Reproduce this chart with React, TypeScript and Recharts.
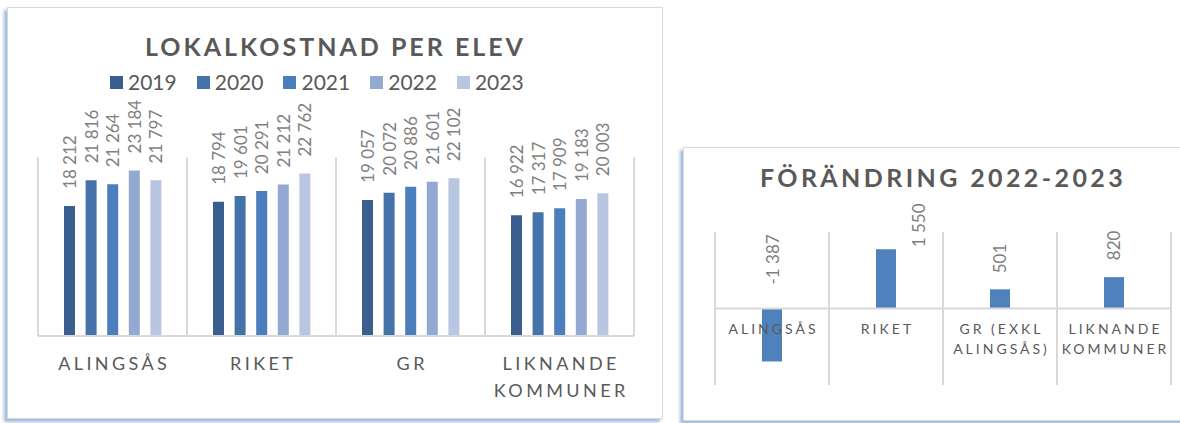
import React from 'react';
import { BarChart, Bar, XAxis, YAxis, CartesianGrid, Legend, LabelList, ReferenceLine } from 'recharts';

// ---------- Data ----------
const categories = ['ALINGSÅS', 'RIKET', 'GR', 'LIKNANDE KOMMUNER'];
const categoryLines = [['ALINGSÅS'], ['RIKET'], ['GR'], ['LIKNANDE', 'KOMMUNER']];
const years = ['2019', '2020', '2021', '2022', '2023'];
const values2019 = [18212, 18794, 19057, 16922];
const values2020 = [21816, 19601, 20072, 17317];
const values2021 = [21264, 20291, 20886, 17909];
const values2022 = [23184, 21212, 21601, 19183];
const values2023 = [21797, 22762, 22102, 20003];

const changeCategories = ['ALINGSÅS', 'RIKET', 'GR (EXKL ALINGSÅS)', 'LIKNANDE KOMMUNER'];
const changeCategoryLines = [['ALINGSÅS'], ['RIKET'], ['GR (EXKL', 'ALINGSÅS)'], ['LIKNANDE', 'KOMMUNER']];
const changeValues = [-1387, 1550, 501, 820];

// ---------- Styles ----------
const FONT = "Lato, 'Open Sans', 'Liberation Sans', sans-serif";
const yearColors = ['#3A5F8F', '#4472A9', '#4B7EBC', '#94A9D1', '#B9C6E1'];
const changeColor = '#4F81BD';
const gridColor = '#D9D9D9';
const textDark = '#595959';
const labelGray = '#7F7F7F';
// label placement tweaks (per category) for the change chart
const changeLabelDx = [0, 33, 0, 0];
const changeLabelGap = [24, 2, 16, 17];

const seriesValues = [values2019, values2020, values2021, values2022, values2023];
const lokalData = categories.map((name, i) => {
  const row: any = { name, idx: i };
  years.forEach((y, k) => { row['y' + y] = seriesValues[k][i]; });
  return row;
});
const changeData = changeCategories.map((name, i) => ({ name, idx: i, value: changeValues[i] }));

const fmt = (v: number) => {
  const s = Math.abs(v).toString().replace(/\B(?=(\d{3})+(?!\d))/g, ' ');
  return (v < 0 ? '-' : '') + s;
};

const VLabel = (props: any) => {
  const { x, y, width, height, value } = props;
  const cx = Number(x) + Number(width) / 2;
  const top = Math.min(Number(y), Number(y) + Number(height));
  const ly = top - 17;
  return (
    <text x={cx} y={ly} transform={`rotate(-90 ${cx} ${ly})`} textAnchor="start" dominantBaseline="central"
      fill={labelGray} fontSize={17} fontFamily={FONT}>{fmt(Number(value))}</text>
  );
};

const ChangeLabel = (props: any) => {
  const { x, y, width, height, value, index } = props;
  const cx = Number(x) + Number(width) / 2 + changeLabelDx[index];
  const top = Math.min(Number(y), Number(y) + Number(height));
  const ly = top - changeLabelGap[index];
  return (
    <text x={cx} y={ly} transform={`rotate(-90 ${cx} ${ly})`} textAnchor="start" dominantBaseline="central"
      fill={labelGray} fontSize={17} fontFamily={FONT}>{fmt(Number(value))}</text>
  );
};

const LeftTick = (props: any) => {
  const { x, y, payload, index } = props;
  const lines = categoryLines[index] || [String(payload.value)];
  return (
    <g>
      {lines.map((ln: string, i: number) => (
        <text key={i} x={Number(x) + 1.7} y={Number(y) + 34 + i * 27} textAnchor="middle" fill={textDark}
          fontSize={18} letterSpacing={3.4} fontFamily={FONT}>{ln}</text>
      ))}
    </g>
  );
};

const RightTick = (props: any) => {
  const { x, y, payload, index } = props;
  const lines = changeCategoryLines[index] || [String(payload.value)];
  return (
    <g>
      {lines.map((ln: string, i: number) => (
        <text key={i} x={Number(x) + 1.5} y={Number(y) - 51 + i * 20} textAnchor="middle" fill={textDark}
          fontSize={14} letterSpacing={3} fontFamily={FONT}>{ln}</text>
      ))}
    </g>
  );
};

const renderLegend = () => (
  <div style={{ height: 87.5, display: 'flex', gap: 20, paddingLeft: 72, boxSizing: 'border-box', fontFamily: FONT }}>
    {years.map((yr, i) => (
      <div key={yr} style={{ display: 'flex', alignItems: 'center', height: 24 }}>
        <span style={{ display: 'inline-block', width: 13, height: 13, background: yearColors[i], marginRight: 5 }} />
        <span style={{ fontSize: 21, color: textDark, lineHeight: '24px' }}>{yr}</span>
      </div>
    ))}
  </div>
);

const boundaryGen = ({ offset }: any) => {
  const n = 4;
  const arr: number[] = [];
  for (let i = 0; i <= n; i++) arr.push(offset.left + (i * offset.width) / n);
  return arr;
};

export default function App() {
  return (
    <div style={{ position: 'absolute', left: 0, top: 0, width: 1180, height: 423, background: '#fff', overflow: 'hidden', fontFamily: FONT }}>
      {/* frames */}
      <div style={{ position: 'absolute', left: 7, top: 7, width: 656, height: 412, border: '1px solid #D9D9D9', boxSizing: 'border-box',
        boxShadow: '-3px 3px 3px rgba(79,129,189,0.55)', background: '#fff' }} />
      <div style={{ position: 'absolute', left: 683, top: 147, width: 520, height: 274, border: '1px solid #D9D9D9', boxSizing: 'border-box',
        boxShadow: '-3px 3px 3px rgba(79,129,189,0.55)', background: '#fff' }} />

      {/* titles */}
      <div style={{ position: 'absolute', left: 0, width: 668, top: 30, textAlign: 'center', fontSize: 25, fontWeight: 700,
        letterSpacing: 3, color: textDark, lineHeight: '32px', paddingLeft: 3, boxSizing: 'border-box' }}>LOKALKOSTNAD PER ELEV</div>
      <div style={{ position: 'absolute', left: 683, width: 517, top: 161, textAlign: 'center', fontSize: 25, fontWeight: 700,
        letterSpacing: 3.4, color: textDark, lineHeight: '32px', paddingLeft: 3, boxSizing: 'border-box' }}>FÖRÄNDRING 2022-2023</div>

      {/* left chart */}
      <div style={{ position: 'absolute', left: 0, top: 0 }}>
        <BarChart width={680} height={423} data={lokalData} margin={{ top: 70, right: 46, left: 38, bottom: 0 }}
          barSize={11} barGap={10.6}>
          <CartesianGrid horizontal={false} vertical stroke={gridColor} strokeWidth={2} verticalCoordinatesGenerator={boundaryGen} />
          <Legend verticalAlign="top" align="left" content={renderLegend} />
          <XAxis dataKey="name" height={87} interval={0} axisLine={{ stroke: gridColor, strokeWidth: 2 }} tickLine={false}
            tickSize={0} tickMargin={0} tick={<LeftTick />} />
          <YAxis hide domain={[0, 25000]} />
          {years.map((yr, k) => (
            <Bar key={yr} dataKey={'y' + yr} name={yr} fill={yearColors[k]} isAnimationActive={false}>
              <LabelList dataKey={'y' + yr} content={<VLabel />} />
            </Bar>
          ))}
        </BarChart>
      </div>

      {/* right chart */}
      <div style={{ position: 'absolute', left: 680, top: 0 }}>
        <BarChart width={500} height={423} data={changeData} margin={{ top: 232, right: 9, left: 35, bottom: 0 }} barSize={20}>
          <CartesianGrid horizontal={false} vertical stroke={gridColor} strokeWidth={2} verticalCoordinatesGenerator={boundaryGen} />
          <XAxis dataKey="name" height={38} interval={0} axisLine={false} tickLine={false} tickSize={0} tickMargin={0}
            tick={<RightTick />} />
          <YAxis hide domain={[-2000, 2000]} />
          <ReferenceLine y={0} stroke={gridColor} strokeWidth={2} />
          <Bar dataKey="value" fill={changeColor} isAnimationActive={false}>
            <LabelList dataKey="value" content={<ChangeLabel />} />
          </Bar>
        </BarChart>
      </div>
    </div>
  );
}
